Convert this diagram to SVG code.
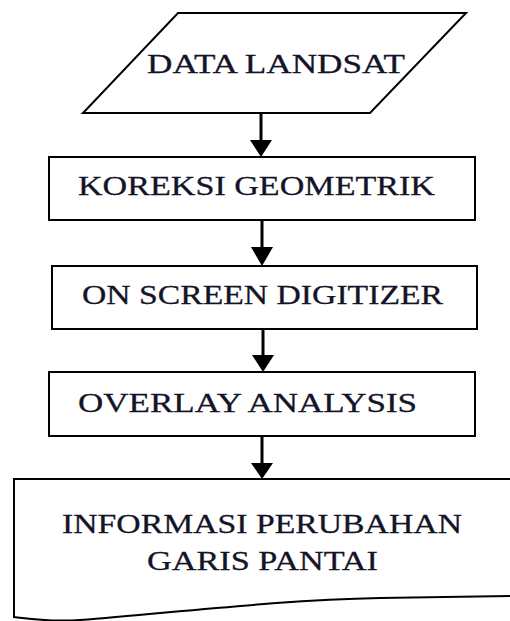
<svg xmlns="http://www.w3.org/2000/svg" width="510" height="621" viewBox="0 0 510 621">
<defs>
<style>
.shape{fill:#fff;stroke:#000;stroke-width:2}
.lbl{font-family:"Liberation Serif","Times New Roman",serif;font-size:28px;fill:#141428;stroke:#141428;stroke-width:0.3}
.con{stroke:#000;stroke-width:3;fill:none}
.head{fill:#000}
</style>
</defs>
<rect width="510" height="621" fill="#fff"/>
<g id="data-landsat">
<polygon class="shape" points="178,13 466,13 370,113 83,113"/>
<text class="lbl" x="147" y="73" textLength="258" lengthAdjust="spacingAndGlyphs">DATA LANDSAT</text>
</g>
<g id="koreksi-geometrik">
<rect class="shape" x="49" y="157" width="426" height="63"/>
<text class="lbl" x="78" y="195" textLength="357" lengthAdjust="spacingAndGlyphs">KOREKSI GEOMETRIK</text>
</g>
<g id="on-screen-digitizer">
<rect class="shape" x="52" y="266" width="425" height="63"/>
<text class="lbl" x="82" y="304" textLength="361" lengthAdjust="spacingAndGlyphs">ON SCREEN DIGITIZER</text>
</g>
<g id="overlay-analysis">
<rect class="shape" x="49" y="372" width="426" height="64"/>
<text class="lbl" x="78" y="412" textLength="339" lengthAdjust="spacingAndGlyphs">OVERLAY ANALYSIS</text>
</g>
<g id="informasi">
<path class="shape" d="M514,479 L14,479 L14,617 C30,619 50,622 80,620 C180,612 280,600 380,598 L514,596"/>
<text class="lbl" x="62" y="533" textLength="400" lengthAdjust="spacingAndGlyphs">INFORMASI PERUBAHAN</text>
<text class="lbl" x="147" y="570" textLength="231" lengthAdjust="spacingAndGlyphs">GARIS PANTAI</text>
</g>
<g id="connectors">
<line class="con" x1="261" y1="113" x2="261" y2="142"/>
<polygon class="head" points="250,140 272,140 261,157"/>
<line class="con" x1="262" y1="220" x2="262" y2="250"/>
<polygon class="head" points="251,247 273,247 262,266"/>
<line class="con" x1="263" y1="329" x2="263" y2="357"/>
<polygon class="head" points="252,355 274,355 263,372"/>
<line class="con" x1="262" y1="436" x2="262" y2="465"/>
<polygon class="head" points="251,463 273,463 262,479"/>
</g>
</svg>
